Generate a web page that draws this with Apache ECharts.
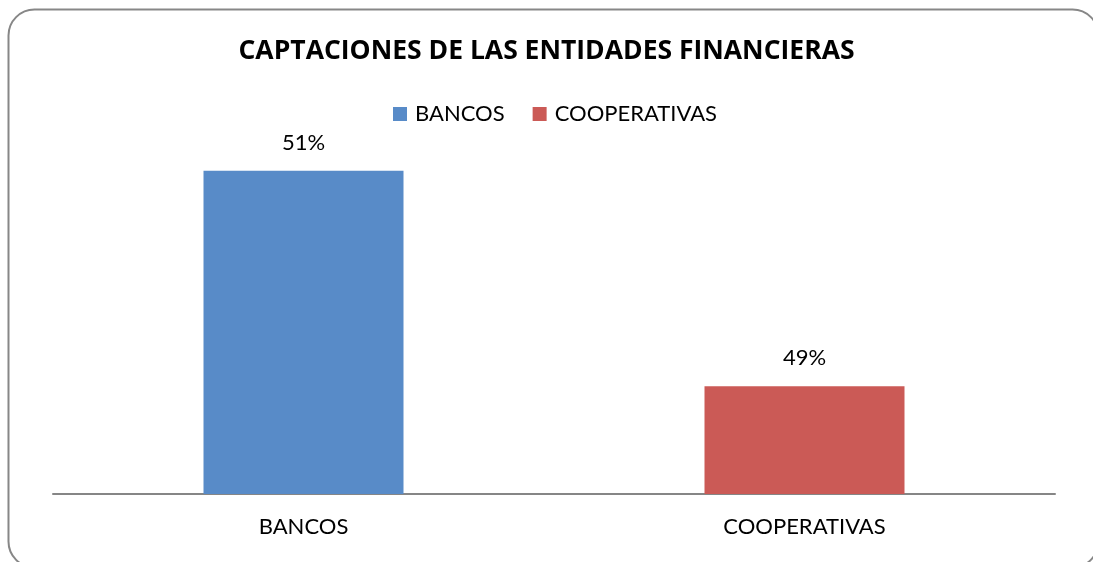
<!DOCTYPE html>
<html>
<head>
<meta charset="utf-8">
<script src="https://cdn.jsdelivr.net/npm/echarts@6/dist/echarts.min.js"></script>
<style>
  html, body { margin: 0; padding: 0; background: #fff; }
  #chart { width: 1093px; height: 562px; }
</style>
</head>
<body>
<div id="chart"></div>
<script>
// Deposit share by type of financial institution
const categories = ['BANCOS', 'COOPERATIVAS'];
const bancosValues = [51, null];
const cooperativasValues = [null, 49];
const seriesNames = ['BANCOS', 'COOPERATIVAS'];

const FONT = 'Lato, "Open Sans", sans-serif';
const TITLE_FONT = '"Open Sans", Lato, sans-serif';

const chart = echarts.init(document.getElementById('chart'));

const labelStyle = {
  show: true,
  position: 'top',
  distance: 17,
  formatter: p => p.value + '%',
  color: '#000',
  fontFamily: FONT,
  fontSize: 22
};

chart.setOption({
  animation: false,
  backgroundColor: '#fff',
  title: {
    text: 'CAPTACIONES DE LAS ENTIDADES FINANCIERAS',
    left: 'center',
    top: 33,
    textStyle: { fontFamily: TITLE_FONT, fontWeight: 'bold', fontSize: 26.5, color: '#000' }
  },
  legend: {
    data: seriesNames,
    top: 98,
    left: 388,
    itemWidth: 14,
    itemHeight: 14,
    itemGap: 28,
    icon: 'rect',
    textStyle: { fontFamily: FONT, fontSize: 22, color: '#000', padding: [0, 0, 0, 3] }
  },
  graphic: [{
    type: 'rect',
    shape: { x: 8.5, y: 9.5, width: 1090, height: 558, r: 26 },
    style: { fill: 'none', stroke: '#878787', lineWidth: 2 },
    silent: true,
    z: 100
  }],
  grid: { left: 53, width: 1002, top: 117, bottom: 68 },
  xAxis: {
    type: 'category',
    data: categories,
    axisLine: { lineStyle: { color: '#868686', width: 2 } },
    axisTick: { show: false },
    axisLabel: { color: '#000', fontFamily: FONT, fontSize: 22, margin: 22 }
  },
  yAxis: {
    type: 'value',
    min: 48,
    max: 51.5,
    show: false,
    splitLine: { show: false }
  },
  series: [
    {
      name: seriesNames[0],
      type: 'bar',
      data: bancosValues,
      barWidth: 200,
      barGap: '-100%',
      itemStyle: { color: '#588BC8' },
      label: labelStyle
    },
    {
      name: seriesNames[1],
      type: 'bar',
      data: cooperativasValues,
      barWidth: 200,
      itemStyle: { color: '#CB5A56' },
      label: labelStyle
    }
  ]
});
</script>
</body>
</html>
